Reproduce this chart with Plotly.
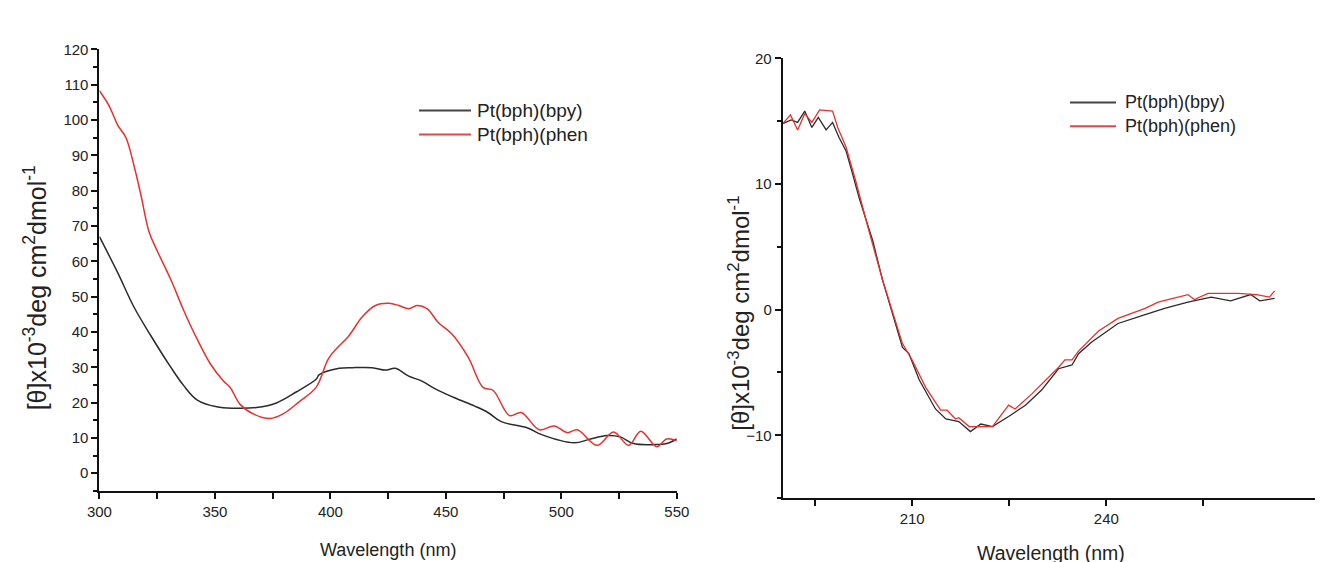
import plotly.graph_objects as go

# ---------- Left panel data (300-550 nm) ----------
left_bpy_x = [300, 307.9, 315, 322.2, 330.8, 336.5, 342.2, 350.8, 358, 368, 376.6, 385.2,
              393.8, 395.2, 403.8, 409.5, 418.1, 423.8, 428.1, 433.9, 439.6, 445.4, 454,
              462.5, 468.2, 474, 485.4, 491.2, 505.5, 512.6, 519.8, 525.5, 531.2, 539.8,
              545.6, 549.9]
left_bpy_y = [67, 56.8, 47, 39, 30.1, 24.8, 20.8, 18.8, 18.4, 18.6, 19.9, 23,
              26.6, 27.9, 29.7, 29.9, 29.9, 29.2, 29.7, 27.5, 26.1, 23.9, 21.3,
              19, 17.2, 14.6, 12.8, 11, 8.6, 9.7, 10.7, 10.3, 8.4, 8.1,
              8.4, 9.7]

left_phen_x = [300, 304.3, 307.9, 311.5, 315, 317.9, 321.5, 325, 330.8, 336.5, 342.2, 348,
               353.7, 356.6, 360.9, 366.6, 373.8, 379.5, 386.6, 393.8, 399.5, 408.1, 413.8,
               419.5, 425.3, 429.6, 433.9, 437.5, 441.8, 446.8, 452.5, 459.7, 466.1, 470.4,
               477.6, 482.6, 490.5, 496.9, 502.6, 506.9, 515.5, 522.6, 529.1, 534.4, 541.3,
               545.6, 549.9]
left_phen_y = [108.3, 103.9, 98.6, 95, 87, 79, 68.3, 63, 55, 46.1, 38.1, 31,
               26.1, 24.3, 19.5, 16.8, 15.5, 16.8, 20.3, 24.3, 32.8, 39, 44.3,
               47.5, 48.1, 47.5, 46.6, 47.5, 46.6, 42.6, 39.5, 32.8, 24.3, 23.5,
               16.3, 17.2, 12.3, 13.4, 11.5, 12.3, 7.9, 11.7, 7.9, 11.9, 7.5,
               9.7, 9.2]

# ---------- Right panel data (190-266 nm) ----------
right_bpy_x = [190, 191.3, 192.3, 193.4, 194.5, 195.5, 196.7, 197.7, 198.7, 199.8, 200.8,
               201.8, 203.4, 203.9, 205.4, 207, 208.5, 209.5, 211.1, 213.6, 215.2, 217.2,
               219, 220.6, 222.4, 224.9, 227.5, 230, 232.6, 234.7, 235.7, 237.7, 238.8,
               241.8, 245.4, 249, 252.6, 256.2, 259.2, 262.3, 263.7, 266]
right_bpy_y = [14.8, 15.1, 14.9, 15.8, 14.5, 15.3, 14.3, 14.9, 13.7, 12.6, 10.8,
               8.9, 6.3, 5.5, 2.4, -0.3, -3.0, -3.5, -5.6, -7.9, -8.7, -8.9,
               -9.7, -9.1, -9.3, -8.5, -7.6, -6.4, -4.7, -4.4, -3.5, -2.6, -2.2,
               -1.1, -0.5, 0.1, 0.6, 1.0, 0.7, 1.2, 0.7, 0.9]

right_phen_x = [190, 191.2, 192.3, 193.4, 194.5, 195.7, 197.7, 198.5, 199.8, 201.3, 203.2,
                205.4, 208.5, 210, 212.1, 214.4, 215.4, 216.7, 217.2, 218.8, 220.3, 222.4,
                224.9, 225.9, 228.5, 232.6, 233.6, 234.7, 235.7, 238.8, 241.8, 246, 248,
                251, 252.6, 253.6, 255.7, 260.3, 263.2, 265.2, 266]
right_phen_y = [14.8, 15.5, 14.3, 15.6, 14.9, 15.9, 15.8, 14.5, 12.9, 10.2, 6.5,
                2.4, -2.7, -4.0, -6.2, -8.0, -8.0, -8.7, -8.6, -9.3, -9.3, -9.3,
                -7.6, -7.9, -6.7, -4.6, -4.0, -4.0, -3.3, -1.7, -0.7, 0.1, 0.6,
                1.0, 1.2, 0.8, 1.3, 1.3, 1.2, 1.0, 1.5]

left_names = ["Pt(bph)(bpy)", "Pt(bph)(phen"]
right_names = ["Pt(bph)(bpy)", "Pt(bph)(phen)"]
black = "#2b2b2b"
red = "#e8302d"

W, H = 1323, 562
FONT = "Liberation Sans, Arial, sans-serif"
TXT = "#222"


def px(x):
    return x / W


def py(y):
    return 1 - y / H


fig = go.Figure()
fig.add_trace(go.Scatter(x=left_bpy_x, y=left_bpy_y, mode="lines", name=left_names[0],
                         line=dict(color=black, width=1.5, shape="spline"),
                         xaxis="x", yaxis="y", showlegend=False))
fig.add_trace(go.Scatter(x=left_phen_x, y=left_phen_y, mode="lines", name=left_names[1],
                         line=dict(color=red, width=1.5, shape="spline"),
                         xaxis="x", yaxis="y", showlegend=False))
fig.add_trace(go.Scatter(x=right_bpy_x, y=right_bpy_y, mode="lines", name=right_names[0],
                         line=dict(color=black, width=1.3), xaxis="x2", yaxis="y2",
                         showlegend=False))
fig.add_trace(go.Scatter(x=right_phen_x, y=right_phen_y, mode="lines", name=right_names[1],
                         line=dict(color=red, width=1.3), xaxis="x2", yaxis="y2",
                         showlegend=False))

axis_common = dict(showgrid=False, zeroline=False, showline=True, linecolor="#111",
                   linewidth=2, ticks="outside", ticklen=6, tickwidth=2, tickcolor="#111",
                   tickfont=dict(family=FONT, size=15, color=TXT))
minor_style = dict(ticks="outside", ticklen=4, tickwidth=2, tickcolor="#111")

fig.update_layout(
    width=W, height=H,
    margin=dict(l=0, r=0, t=0, b=0),
    paper_bgcolor="white", plot_bgcolor="white",
    font=dict(family=FONT, color=TXT),
    showlegend=False,
    xaxis=dict(domain=[px(80), px(669)], range=[300, 550], anchor="y",
               dtick=50, tick0=300,
               minor=dict(dtick=25, ticks="outside", ticklen=6, tickwidth=2, tickcolor="#111"),
               **axis_common),
    yaxis=dict(domain=[py(481.6), py(33)], range=[-5, 120], anchor="x",
               dtick=10, tick0=0, minor=dict(dtick=5, **minor_style),
               **axis_common),
    xaxis2=dict(domain=[px(777), 1.0], range=[190, 272.7], anchor="y2",
                tickvals=[195, 210, 225, 240, 255], ticktext=["", "210", "", "240", ""],
                **axis_common),
    yaxis2=dict(domain=[py(489), py(42)], range=[-15, 20], anchor="x2",
                dtick=10, tick0=0, minor=dict(dtick=5, **minor_style),
                **axis_common),
)

# ---------- legends (line samples + real text) ----------
def add_legend(x0, x1, xt, y_rows, labels, colors, size):
    for yr, lab, col in zip(y_rows, labels, colors):
        fig.add_shape(type="line", xref="paper", yref="paper",
                      x0=px(x0), x1=px(x1), y0=py(yr), y1=py(yr),
                      line=dict(color=col, width=2))
        fig.add_annotation(x=px(xt), y=py(yr), xref="paper", yref="paper", text=lab,
                           xanchor="left", yanchor="middle", showarrow=False,
                           font=dict(family=FONT, size=size, color=TXT))

add_legend(406, 459, 463, [95, 119.3], left_names, ["#444", "#e8454a"], 19)
add_legend(1070, 1117, 1124, [86.8, 111.1], right_names, ["#444", "#e8454a"], 18)

# ---------- axis titles ----------
ytitle = "[θ]x10<sup>-3</sup>deg cm<sup>2</sup>dmol<sup>-1</sup>"
fig.add_annotation(x=px(14), y=py(275), xref="paper", yref="paper", text=ytitle,
                   textangle=-90, showarrow=False, xanchor="center", yanchor="middle",
                   font=dict(family=FONT, size=25, color=TXT))
fig.add_annotation(x=px(733), y=py(301), xref="paper", yref="paper", text=ytitle,
                   textangle=-90, showarrow=False, xanchor="center", yanchor="middle",
                   font=dict(family=FONT, size=24, color=TXT))
fig.add_annotation(x=px(374), y=py(542), xref="paper", yref="paper", text="Wavelength (nm)",
                   showarrow=False, xanchor="center", yanchor="middle",
                   font=dict(family=FONT, size=18, color=TXT))
fig.add_annotation(x=px(1051), y=py(545), xref="paper", yref="paper", text="Wavelength (nm)",
                   showarrow=False, xanchor="center", yanchor="middle",
                   font=dict(family=FONT, size=19.5, color=TXT))

fig.write_html("out.html")
